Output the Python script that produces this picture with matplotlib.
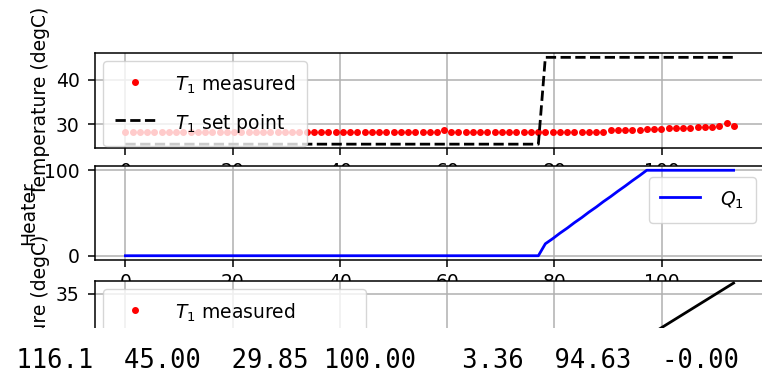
"""
Temperature control lab snapshot: measured T1, set point, heater output,
followed by the printed status line.
"""

import matplotlib
matplotlib.use('Agg')
import matplotlib.pyplot as plt
from matplotlib.patches import Rectangle

W, H = 762, 376

# sample times (s)
tm = [0.0, 1.4, 2.7, 4.1, 5.4, 6.8, 8.1, 9.5, 10.8, 12.2, 13.5, 14.9, 16.2,
      17.6, 18.9, 20.3, 21.6, 23.0, 24.3, 25.7, 27.0, 28.4, 29.7, 31.1, 32.4,
      33.8, 35.1, 36.5, 37.8, 39.2, 40.5, 41.9, 43.2, 44.6, 45.9, 47.3, 48.6,
      50.0, 51.3, 52.7, 54.0, 55.4, 56.7, 58.1, 59.4, 60.8, 62.1, 63.5, 64.8,
      66.2, 67.5, 68.9, 70.2, 71.6, 72.9, 74.3, 75.6, 77.0, 78.3, 79.7, 81.0,
      82.4, 83.7, 85.1, 86.4, 87.8, 89.1, 90.5, 91.8, 93.2, 94.5, 95.9, 97.2,
      98.6, 99.9, 101.3, 102.6, 104.0, 105.3, 106.7, 108.0, 109.4, 110.7,
      112.1, 113.4]

# measured temperature T1 (degC)
T1 = [28.3, 28.3, 28.3, 28.3, 28.3, 28.3, 28.3, 28.3, 28.3, 28.3, 28.3, 28.3,
      28.3, 28.3, 28.3, 28.3, 28.3, 28.3, 28.3, 28.3, 28.3, 28.3, 28.3, 28.3,
      28.3, 28.3, 28.3, 28.3, 28.3, 28.3, 28.3, 28.3, 28.3, 28.3, 28.3, 28.3,
      28.3, 28.3, 28.3, 28.3, 28.3, 28.3, 28.3, 28.3, 28.6, 28.3, 28.3, 28.3,
      28.3, 28.3, 28.3, 28.3, 28.3, 28.3, 28.3, 28.3, 28.3, 28.3, 28.3, 28.3,
      28.3, 28.3, 28.3, 28.3, 28.3, 28.3, 28.3, 28.6, 28.6, 28.6, 28.6, 28.6,
      28.9, 28.9, 29.0, 29.2, 29.2, 29.2, 29.2, 29.3, 29.4, 29.4, 29.6, 30.3,
      29.6]

# set point (degC)
Tsp = [25.5] * 58 + [45.0] * 27

# heater output (%)
Q1 = [0.0] * 58 + [14.0, 20.1, 26.3, 32.4, 38.6, 44.7, 50.9, 57.0, 63.2,
                   69.3, 75.4, 81.6, 87.7, 93.9] + [100.0] * 13

# model line in the lower panel
tp = [97.2, 99.9, 102.6, 105.3, 108.0, 110.7, 113.4]
Tp = [29.7, 30.8, 31.9, 33.0, 34.1, 35.2, 36.3]

# printed status values
status = [116.1, 45.00, 29.85, 100.00, 3.36, 94.63, -0.0]

plt.rcParams.update({
    'font.size': 13.5,
    'lines.linewidth': 2.0,
    'axes.linewidth': 1.1,
    'grid.linewidth': 1.1,
    'xtick.major.size': 4.7,
    'ytick.major.size': 4.7,
    'xtick.major.width': 1.1,
    'ytick.major.width': 1.1,
    'xtick.major.pad': 4.7,
    'ytick.major.pad': 6.5,
    'legend.handleheight': 1.5,
    'legend.handlelength': 2.13,
    'legend.handletextpad': 1.07,
    'legend.borderpad': 0.6,
    'legend.borderaxespad': 0.45,
    'legend.labelspacing': 0.85,
})


def add_axes_px(fig, left, top, right, bottom):
    return fig.add_axes([left / W, 1 - bottom / H,
                         (right - left) / W, (bottom - top) / H])


fig = plt.figure(figsize=(W / 100, H / 100), dpi=100)

ax1 = add_axes_px(fig, 95, 53, 764, 148.5)
ax1.plot(tm, T1, 'r.', markersize=8, label='$T_1$ measured')
ax1.plot(tm, Tsp, 'k--', label='$T_1$ set point')
ax1.set_ylabel('Temperature (degC)')
ax1.legend(loc='upper left')
ax1.grid()

ax2 = add_axes_px(fig, 95, 166, 764, 260)
ax2.plot(tm, Q1, 'b-', label='$Q_1$')
ax2.set_ylabel('Heater')
ax2.legend(loc='upper right', bbox_to_anchor=(1.0, 0.97))
ax2.grid()

ax3 = add_axes_px(fig, 95, 281, 764, 376)
ax3.plot(tm, T1, 'r.', markersize=8, label='$T_1$ measured')
ax3.plot(tp, Tp, 'k-', label='$T_1$ model predicted')
ax3.set_ylim(24.9, 36.55)
ax3.set_ylabel('Temperature (degC)')
ax3.legend(loc='upper left')
ax3.grid()

# the picture is cut off here, the printed line follows
fig.add_artist(Rectangle((0, 0), 1, (H - 328.3) / H, transform=fig.transFigure,
                         facecolor='white', edgecolor='none', zorder=10))
line = ('{:6.1f} ' + ' '.join(['{:6.2f}'] * 6)).format(*status)
fig.text(0.6 / W, 8 / H, line, family='DejaVu Sans Mono', fontsize=18.4,
         zorder=11)

fig.savefig('out.png', dpi=100)
